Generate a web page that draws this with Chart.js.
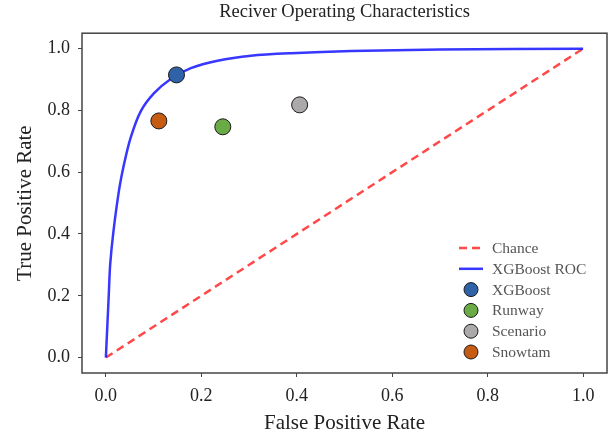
<!DOCTYPE html>
<html>
<head>
<meta charset="utf-8">
<script src="https://cdn.jsdelivr.net/npm/chart.js@4.4.0/dist/chart.umd.min.js"></script>
<style>
  html, body { margin: 0; padding: 0; background: #fff; }
  #wrap { width: 613px; height: 436px; }
</style>
</head>
<body>
<div id="wrap"><canvas id="rocChart" width="613" height="436"></canvas></div>
<script>
// ROC curve
const rocFpr = [0, 0.003, 0.006, 0.009, 0.016, 0.028, 0.038, 0.052, 0.073, 0.101, 0.136, 0.178, 0.234, 0.304, 0.388, 0.514, 0.7, 1.0];
const rocTpr = [0, 0.1, 0.2, 0.3, 0.41, 0.546, 0.626, 0.712, 0.797, 0.856, 0.902, 0.937, 0.961, 0.977, 0.985, 0.992, 0.997, 1.0];

const chanceX = [0, 1];
const chanceY = [0, 1];

const modelNames = ['XGBoost', 'Runway', 'Scenario', 'Snowtam'];
const modelFpr = [0.148, 0.245, 0.406, 0.111];
const modelTpr = [0.915, 0.747, 0.818, 0.766];
const modelColors = ['#3062a8', '#6aab46', '#aba9a9', '#c65b12'];

const axisTicks = [0, 0.2, 0.4, 0.6, 0.8, 1.0];

const serif = "'Liberation Serif', 'Times New Roman', serif";

function toPoints(xs, ys) {
    return xs.map((x, i) => ({ x: x, y: ys[i] }));
}

const datasets = [
    {
        label: 'Chance',
        data: toPoints(chanceX, chanceY),
        showLine: true,
        borderColor: 'rgba(255, 40, 40, 0.85)',
        borderWidth: 2.5,
        borderDash: [8, 5],
        pointRadius: 0,
        order: 3,
        legendKind: 'line'
    },
    {
        label: 'XGBoost ROC',
        data: toPoints(rocFpr, rocTpr),
        showLine: true,
        borderColor: 'rgba(20, 20, 255, 0.85)',
        borderWidth: 2.5,
        tension: 0.3,
        pointRadius: 0,
        order: 2,
        legendKind: 'line'
    }
];

modelNames.forEach((name, i) => {
    datasets.push({
        label: name,
        data: [{ x: modelFpr[i], y: modelTpr[i] }],
        backgroundColor: modelColors[i],
        borderColor: '#1a1a1a',
        borderWidth: 1,
        pointRadius: 8,
        pointHoverRadius: 8,
        order: 1,
        legendKind: 'point'
    });
});

// box around the plot area
const frame = {
    id: 'frame',
    afterDraw(chart) {
        const { ctx, chartArea: a } = chart;
        ctx.save();
        ctx.strokeStyle = '#444';
        ctx.lineWidth = 1.5;
        ctx.strokeRect(a.left, a.top, a.right - a.left, a.bottom - a.top);
        ctx.restore();
    }
};

// legend drawn inside the lower right corner
const cornerLegend = {
    id: 'cornerLegend',
    afterDraw(chart) {
        const { ctx, chartArea: a } = chart;
        const rowH = 20.8;
        let y = a.bottom - 125;
        ctx.save();
        ctx.font = '15.5px ' + serif;
        ctx.textBaseline = 'middle';
        chart.data.datasets.forEach(ds => {
            if (ds.legendKind === 'line') {
                ctx.beginPath();
                ctx.setLineDash(ds.borderDash || []);
                ctx.strokeStyle = ds.borderColor;
                ctx.lineWidth = ds.borderWidth;
                ctx.moveTo(a.right - 148, y);
                ctx.lineTo(a.right - 124, y);
                ctx.stroke();
                ctx.setLineDash([]);
            } else {
                ctx.beginPath();
                ctx.arc(a.right - 136, y, 7, 0, Math.PI * 2);
                ctx.fillStyle = ds.backgroundColor;
                ctx.fill();
                ctx.strokeStyle = '#1a1a1a';
                ctx.lineWidth = 1;
                ctx.stroke();
            }
            ctx.fillStyle = '#555';
            ctx.fillText(ds.label, a.right - 115, y + 1);
            y += rowH;
        });
        ctx.restore();
    }
};

function fixedTicks(scale) {
    scale.ticks = axisTicks.map(v => ({ value: v }));
}

const ctx = document.getElementById('rocChart').getContext('2d');

new Chart(ctx, {
    type: 'scatter',
    data: { datasets: datasets },
    options: {
        responsive: false,
        animation: false,
        layout: { autoPadding: false, padding: { left: 0, right: 6, top: 0, bottom: 0 } },
        plugins: {
            legend: { display: false },
            tooltip: { enabled: false },
            title: {
                display: true,
                text: 'Reciver Operating Characteristics',
                fullSize: false,
                color: '#222',
                font: { family: serif, size: 18.5, weight: 'normal' },
                padding: { top: 1, bottom: 10 }
            }
        },
        scales: {
            x: {
                type: 'linear',
                min: -0.05,
                max: 1.05,
                afterBuildTicks: fixedTicks,
                afterFit(scale) {
                    scale.height = 63;
                    scale.paddingLeft = 0;
                    scale.paddingRight = 0;
                },
                grid: { drawOnChartArea: false, drawTicks: true, tickLength: 4, color: '#444' },
                border: { display: false },
                ticks: {
                    padding: 8,
                    color: '#222',
                    font: { family: serif, size: 18 },
                    callback: v => v.toFixed(1)
                },
                title: {
                    display: true,
                    text: 'False Positive Rate',
                    color: '#222',
                    font: { family: serif, size: 21 },
                    padding: { top: 0, bottom: 0 }
                }
            },
            y: {
                type: 'linear',
                min: -0.05,
                max: 1.05,
                afterBuildTicks: fixedTicks,
                afterFit(scale) { scale.width = 82; },
                grid: { drawOnChartArea: false, drawTicks: true, tickLength: 4, color: '#444' },
                border: { display: false },
                ticks: {
                    padding: 8,
                    color: '#222',
                    font: { family: serif, size: 18 },
                    callback: v => v.toFixed(1)
                },
                title: {
                    display: true,
                    text: 'True Positive Rate',
                    color: '#222',
                    font: { family: serif, size: 21 },
                    padding: { top: 13, bottom: 0 }
                }
            }
        }
    },
    plugins: [frame, cornerLegend]
});
</script>
</body>
</html>
